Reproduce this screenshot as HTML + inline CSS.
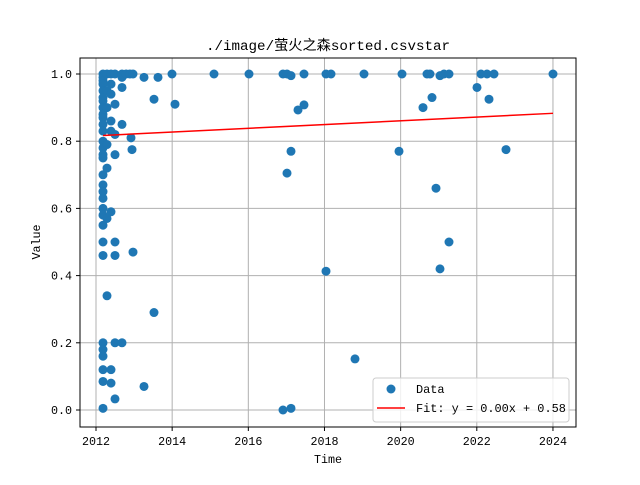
<!DOCTYPE html>
<html><head><meta charset="utf-8"><style>
body{margin:0;background:#fff;}
svg{font-family:"Liberation Mono","WenQuanYi Zen Hei","Noto Sans CJK SC",monospace;}
</style></head><body>
<svg id="chart" width="640" height="480" viewBox="0 0 640 480">
<rect width="640" height="480" fill="#fff"/>
<text x="328" y="50" text-anchor="middle" font-size="14.2" fill="#000">./image/萤火之森sorted.csvstar</text>
<g id="grid"></g><g id="ticks"></g><g id="points"></g><g id="fit"></g>
<rect x="80" y="58" width="496" height="369" fill="none" stroke="#000" stroke-width="1"/>
<text x="328" y="463" text-anchor="middle" font-size="11.7">Time</text>
<text x="0" y="0" transform="translate(40,242) rotate(-90)" text-anchor="middle" font-size="11.7">Value</text>
<g>
<rect x="373" y="378" width="196" height="44" rx="3" fill="#fff" fill-opacity="0.8" stroke="#ccc"/>
<circle cx="391" cy="389" r="4.5" fill="#1f77b4"/>
<text x="416" y="393" font-size="11.9">Data</text>
<line x1="377" y1="408" x2="405" y2="408" stroke="#f00" stroke-width="1.5"/>
<text x="416" y="412" font-size="11.9">Fit: y = 0.00x + 0.58</text>
</g>
</svg>
<script>
const xTicks=[2012,2014,2016,2018,2020,2022,2024];
const yTicks=[0,0.2,0.4,0.6,0.8,1.0];
const yTickLabels=["0.0","0.2","0.4","0.6","0.8","1.0"];
const pointPx=[103,103,103,103,103,103,103,103,103,103,103,103,103,103,103,103,103,103,103,103,103,103,103,103,103,103,103,103,103,103,103,
107,107,107,107,107,107,107,111,111,111,111,111,111,111,111,115,115,115,115,115,115,115,115,122,122,122,122,122,126,130,133,131,132,133,
144,144,154,154,158,172,175,214,249,283,283,287,287,291,291,291,298,304,304,326,326,331,355,364,399,402,
423,427,430,432,436,440,440,444,449,449,477,481,487,489,494,506,553];
const values=[1.0,0.99,0.98,0.97,0.95,0.93,0.92,0.9,0.88,0.87,0.85,0.83,0.8,0.78,0.76,0.75,0.7,0.67,0.65,0.63,0.6,0.58,0.55,0.5,0.46,0.2,0.18,0.16,0.12,0.085,0.005,
0.34,0.72,0.57,0.79,0.9,0.95,1.0,0.12,0.08,0.59,0.83,0.86,0.94,1.0,0.97,0.2,0.033,0.5,0.46,0.76,0.82,0.91,1.0,0.2,0.85,0.96,1.0,0.99,1.0,1.0,1.0,0.81,0.775,0.47,
0.07,0.99,0.29,0.925,0.99,1.0,0.91,1.0,1.0,1.0,0.0,0.705,1.0,0.77,0.005,0.995,0.893,0.908,1.0,1.0,0.413,1.0,0.152,1.0,0.77,1.0,
0.9,1.0,1.0,0.93,0.66,0.42,0.995,1.0,0.5,1.0,0.96,1.0,1.0,0.925,1.0,0.775,1.0];
const years=pointPx.map(p=>2012+(p-96)/38.08);
const fitStart=0.817, fitEnd=0.883;
const NS="http://www.w3.org/2000/svg";
const xs=y=>96+(y-2012)*38.08;
const ys=v=>410-v*336;
function mk(t,a,parent){const e=document.createElementNS(NS,t);for(const k in a)e.setAttribute(k,a[k]);document.getElementById(parent).appendChild(e);return e;}
xTicks.forEach(t=>{
 const g=mk('line',{x1:xs(t),x2:xs(t),y1:58,y2:427,stroke:'#b0b0b0','stroke-width':1},'grid');
 
 
 const k=mk('line',{x1:xs(t),x2:xs(t),y1:427,y2:431,stroke:'#000'},'ticks');
 
 
 const l=mk('text',{x:xs(t),y:445,'text-anchor':'middle','font-size':11.7},'ticks');l.textContent=t;
 
 
});
yTicks.forEach((t,i)=>{
 const g=mk('line',{x1:80,x2:576,y1:ys(t),y2:ys(t),stroke:'#b0b0b0','stroke-width':1},'grid');
 
 
 const k=mk('line',{x1:76,x2:80,y1:ys(t),y2:ys(t),stroke:'#000'},'ticks');
 
 
 const l=mk('text',{x:72,y:ys(t)+4,'text-anchor':'end','font-size':11.7},'ticks');l.textContent=yTickLabels[i];
 
 
});
years.forEach((yr,i)=>{
 const c=mk('circle',{cx:xs(yr),cy:ys(values[i]),r:4.5,fill:'#1f77b4'},'points');
 
 
});
const x0=Math.min(...years), x1=Math.max(...years);
const f=mk('line',{x1:xs(x0),y1:ys(fitStart),x2:xs(x1),y2:ys(fitEnd),stroke:'#f00','stroke-width':1.5},'fit');


</script>
</body></html>
